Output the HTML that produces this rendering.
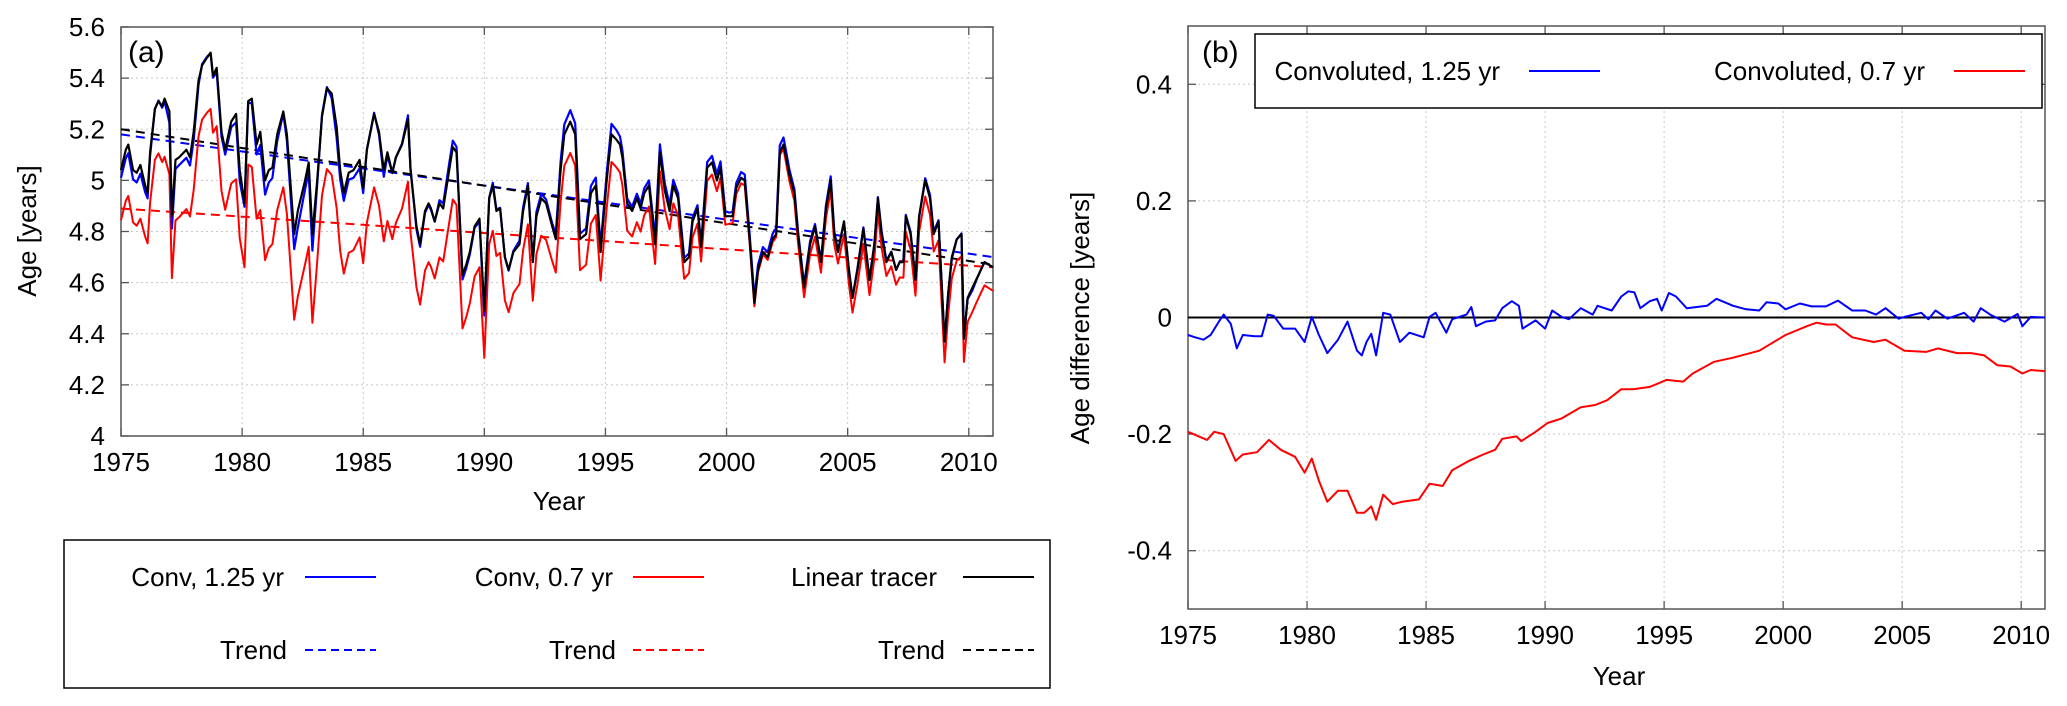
<!DOCTYPE html>
<html><head><meta charset="utf-8">
<style>
html,body{margin:0;padding:0;background:#fff;}
svg{display:block;font-family:"Liberation Sans",sans-serif;}
</style></head>
<body>
<svg id="chart" width="2067" height="706" viewBox="0 0 2067 706" xmlns="http://www.w3.org/2000/svg"></svg>
<script>
// ---- Panel (a) data: linear tracer age (years) ----
const tYears = [1975.0,1975.2,1975.3,1975.5,1975.65,1975.8,1976.0,1976.1,1976.2,1976.4,1976.55,1976.7,1976.8,1977.0,1977.1,1977.25,1977.4,1977.6,1977.7,1977.85,1978.0,1978.2,1978.35,1978.55,1978.7,1978.8,1978.95,1979.15,1979.3,1979.55,1979.75,1979.9,1980.1,1980.25,1980.4,1980.6,1980.75,1980.95,1981.1,1981.25,1981.45,1981.7,1981.85,1982.15,1982.3,1982.6,1982.75,1982.9,1983.1,1983.3,1983.5,1983.7,1983.9,1984.05,1984.2,1984.4,1984.6,1984.85,1985.0,1985.15,1985.45,1985.65,1985.85,1986.0,1986.2,1986.35,1986.6,1986.85,1986.95,1987.2,1987.35,1987.55,1987.7,1987.8,1987.95,1988.15,1988.3,1988.55,1988.7,1988.85,1989.1,1989.25,1989.4,1989.6,1989.8,1990.0,1990.2,1990.35,1990.5,1990.65,1990.85,1991.0,1991.2,1991.45,1991.6,1991.8,1992.0,1992.15,1992.35,1992.55,1992.8,1992.95,1993.15,1993.3,1993.55,1993.75,1993.95,1994.2,1994.4,1994.6,1994.8,1995.05,1995.25,1995.45,1995.6,1995.7,1995.9,1996.1,1996.3,1996.45,1996.6,1996.8,1997.05,1997.25,1997.45,1997.65,1997.8,1998.0,1998.25,1998.45,1998.6,1998.8,1998.95,1999.2,1999.4,1999.6,1999.75,1999.95,2000.1,2000.25,2000.4,2000.6,2000.75,2000.95,2001.15,2001.3,2001.5,2001.7,2001.9,2002.05,2002.2,2002.35,2002.6,2002.8,2002.95,2003.2,2003.45,2003.65,2003.9,2004.1,2004.3,2004.45,2004.6,2004.85,2005.05,2005.2,2005.4,2005.65,2005.9,2006.1,2006.25,2006.4,2006.6,2006.8,2007.0,2007.15,2007.3,2007.4,2007.6,2007.8,2007.95,2008.2,2008.4,2008.55,2008.75,2009.0,2009.15,2009.3,2009.5,2009.7,2009.8,2009.95,2010.15,2010.3,2010.5,2010.65,2011.0];
const linearAge = [5.04,5.12,5.14,5.04,5.03,5.06,4.98,4.95,5.11,5.28,5.31,5.29,5.32,5.27,4.86,5.08,5.09,5.11,5.12,5.09,5.19,5.39,5.45,5.48,5.50,5.41,5.44,5.19,5.12,5.23,5.26,5.04,4.91,5.31,5.32,5.14,5.19,5.00,5.04,5.05,5.18,5.27,5.18,4.79,4.88,5.00,5.07,4.79,5.00,5.25,5.36,5.34,5.21,5.04,4.95,5.03,5.04,5.08,4.97,5.12,5.26,5.19,5.04,5.11,5.03,5.09,5.14,5.24,5.04,4.82,4.75,4.88,4.91,4.89,4.84,4.91,4.89,5.04,5.13,5.11,4.63,4.67,4.72,4.82,4.85,4.49,4.93,4.98,4.88,4.89,4.70,4.65,4.72,4.75,4.88,4.98,4.68,4.86,4.93,4.91,4.82,4.77,5.04,5.18,5.23,5.18,4.77,4.79,4.95,4.98,4.72,5.00,5.18,5.16,5.14,5.09,4.91,4.88,4.93,4.89,4.95,4.98,4.75,5.11,4.96,4.88,4.98,4.93,4.68,4.70,4.84,4.89,4.74,5.05,5.07,5.00,5.05,4.86,4.86,4.86,4.97,5.01,5.00,4.77,4.52,4.65,4.72,4.70,4.77,4.79,5.11,5.14,5.02,4.95,4.79,4.58,4.75,4.82,4.68,4.89,5.00,4.79,4.72,4.84,4.65,4.54,4.65,4.81,4.61,4.75,4.93,4.79,4.68,4.72,4.65,4.68,4.68,4.86,4.79,4.61,4.86,5.00,4.93,4.79,4.84,4.37,4.56,4.70,4.77,4.79,4.38,4.54,4.58,4.61,4.65,4.68,4.66];
// ---- Panel (b) data: age difference (conv - linear) ----
const redYears = [1975,1975.8,1976.1,1976.5,1977.0,1977.3,1977.9,1978.4,1978.9,1979.5,1979.9,1980.2,1980.5,1980.85,1981.3,1981.7,1982.1,1982.4,1982.7,1982.9,1983.2,1983.6,1984.0,1984.7,1985.15,1985.7,1986.1,1986.8,1987.4,1987.9,1988.2,1988.8,1989.0,1989.6,1990.1,1990.7,1991.5,1992.1,1992.6,1993.2,1993.7,1994.4,1995.1,1995.8,1996.2,1997.1,1997.9,1999.0,2000.1,2001.0,2001.4,2001.8,2002.2,2002.9,2003.8,2004.3,2005.1,2006.0,2006.5,2007.3,2007.9,2008.45,2009.0,2009.55,2010.05,2010.4,2011.0];
const diffRed = [-0.196,-0.21,-0.196,-0.2,-0.246,-0.235,-0.231,-0.21,-0.227,-0.239,-0.266,-0.242,-0.28,-0.316,-0.297,-0.297,-0.335,-0.335,-0.324,-0.347,-0.304,-0.32,-0.316,-0.312,-0.285,-0.289,-0.262,-0.246,-0.235,-0.227,-0.208,-0.204,-0.212,-0.196,-0.181,-0.173,-0.154,-0.15,-0.142,-0.123,-0.123,-0.119,-0.107,-0.11,-0.096,-0.076,-0.069,-0.057,-0.03,-0.015,-0.009,-0.012,-0.012,-0.034,-0.042,-0.038,-0.057,-0.059,-0.053,-0.061,-0.061,-0.065,-0.082,-0.084,-0.096,-0.09,-0.092];
const blueYears = [1975,1975.3,1975.65,1975.95,1976.3,1976.5,1976.8,1977.05,1977.3,1977.8,1978.1,1978.35,1978.6,1979.0,1979.5,1979.9,1980.2,1980.5,1980.85,1981.3,1981.7,1982.1,1982.3,1982.5,1982.7,1982.9,1983.2,1983.5,1983.9,1984.3,1984.9,1985.15,1985.4,1985.85,1986.1,1986.7,1986.9,1987.1,1987.5,1987.9,1988.2,1988.6,1988.9,1989.05,1989.6,1990.0,1990.3,1990.7,1991.0,1991.5,1992.0,1992.2,1992.8,1993.2,1993.5,1993.75,1994.0,1994.4,1994.7,1994.9,1995.2,1995.5,1995.95,1996.8,1997.2,1997.9,1998.45,1999.0,1999.3,1999.8,2000.1,2000.7,2001.2,2001.8,2002.3,2002.9,2003.45,2003.9,2004.3,2004.85,2005.1,2005.8,2006.1,2006.4,2006.9,2007.6,2008.0,2008.3,2008.7,2009.3,2009.85,2010.05,2010.4,2011.0];
const diffBlue = [-0.03,-0.034,-0.038,-0.03,-0.007,0.005,-0.011,-0.053,-0.03,-0.032,-0.032,0.005,0.003,-0.019,-0.019,-0.042,0.001,-0.03,-0.061,-0.038,-0.007,-0.057,-0.065,-0.042,-0.028,-0.065,0.008,0.005,-0.042,-0.026,-0.034,0.001,0.008,-0.026,-0.003,0.005,0.018,-0.015,-0.007,-0.005,0.016,0.028,0.02,-0.019,-0.005,-0.019,0.012,0.001,-0.003,0.016,0.005,0.02,0.012,0.036,0.045,0.043,0.016,0.028,0.032,0.012,0.042,0.036,0.016,0.02,0.032,0.02,0.014,0.012,0.026,0.024,0.014,0.024,0.019,0.019,0.029,0.012,0.012,0.005,0.016,-0.002,0.001,0.008,-0.003,0.012,-0.002,0.008,-0.007,0.016,0.005,-0.007,0.006,-0.015,0.001,0.0];
// trends (start 1975, end 2011)
const trendBlue = [5.18, 4.70];
const trendRed = [4.89, 4.66];
const trendBlack = [5.20, 4.67];
const xTicks = [1975,1980,1985,1990,1995,2000,2005,2010];
const yTicksA = [4,4.2,4.4,4.6,4.8,5,5.2,5.4,5.6];
const yLabelsA = ["4","4.2","4.4","4.6","4.8","5","5.2","5.4","5.6"];
const yTicksB = [-0.4,-0.2,0,0.2,0.4];
const yLabelsB = ["-0.4","-0.2","0","0.2","0.4"];

const NS="http://www.w3.org/2000/svg";
const svg=document.getElementById('chart');
function mk(tag,attrs,parent){const e=document.createElementNS(NS,tag);for(const k in attrs)e.setAttribute(k,attrs[k]);(parent||svg).appendChild(e);return e;}
function interp(xs,ys,x){if(x<=xs[0])return ys[0];for(let i=1;i<xs.length;i++){if(x<=xs[i]){const t=(x-xs[i-1])/(xs[i]-xs[i-1]);return ys[i-1]+t*(ys[i]-ys[i-1]);}}return ys[ys.length-1];}

const A={l:121,r:993,t:27,b:436,x0:1975,x1:2011,y0:4,y1:5.6};
const B={l:1188,r:2045,t:26,b:609,x0:1975,x1:2011,y0:-0.5,y1:0.5};
function sx(P,v){return P.l+(v-P.x0)/(P.x1-P.x0)*(P.r-P.l);}
function sy(P,v){return P.b-(v-P.y0)/(P.y1-P.y0)*(P.b-P.t);}

function axes(P,yt,yl,name){
  const g=mk('g',{});
  
  
  xTicks.forEach(v=>{const x=sx(P,v);
    const gl=mk('line',{x1:x,x2:x,y1:P.t,y2:P.b,stroke:'#c8c8c8','stroke-width':1,'stroke-dasharray':'2,3'},g);
    
    mk('line',{x1:x,x2:x,y1:P.b,y2:P.b-8,stroke:'#555','stroke-width':1.3},g);
    mk('line',{x1:x,x2:x,y1:P.t,y2:P.t+8,stroke:'#555','stroke-width':1.3},g);
    const t=mk('text',{x:x,y:P.b+35,'font-size':26,'text-anchor':'middle',fill:'#000'},g);t.textContent=v;
    
  });
  yt.forEach((v,i)=>{const y=sy(P,v);
    const gl=mk('line',{x1:P.l,x2:P.r,y1:y,y2:y,stroke:'#c8c8c8','stroke-width':1,'stroke-dasharray':'2,3'},g);
    
    mk('line',{x1:P.l,x2:P.l+8,y1:y,y2:y,stroke:'#555','stroke-width':1.3},g);
    mk('line',{x1:P.r,x2:P.r-8,y1:y,y2:y,stroke:'#555','stroke-width':1.3},g);
    const t=mk('text',{x:P.l-16,y:y+9,'font-size':26,'text-anchor':'end',fill:'#000'},g);t.textContent=yl[i];
    
  });
  const fr=mk('rect',{x:P.l,y:P.t,width:P.r-P.l,height:P.b-P.t,fill:'none',stroke:'#555','stroke-width':1.5},g);
  
}
function poly(P,xs,ys,color,w,dash,name){
  const pts=xs.map((x,i)=>sx(P,x).toFixed(1)+','+sy(P,ys[i]).toFixed(1)).join(' ');
  const a={points:pts,fill:'none',stroke:color,'stroke-width':w,'stroke-linejoin':'round'};
  if(dash)a['stroke-dasharray']=dash;
  const e=mk('polyline',a);
  
  
  return e;
}
function txt(x,y,s,size,name,extra){const a=Object.assign({x:x,y:y,'font-size':size,fill:'#000'},extra||{});const t=mk('text',a);t.textContent=s;
  return t;}

// Panel A
axes(A,yTicksA,yLabelsA,'panel-a');
const blueA=tYears.map((y,i)=>linearAge[i]+interp(blueYears,diffBlue,y));
const redA=tYears.map((y,i)=>linearAge[i]+interp(redYears,diffRed,y));
poly(A,[1975,2011],trendBlue,'#0000ff',2,'9,6','trend-conv-125');
poly(A,[1975,2011],trendRed,'#ff0000',2,'9,6','trend-conv-07');
poly(A,[1975,2011],trendBlack,'#000',2,'9,6','trend-linear');
poly(A,tYears,redA,'#ff0000',2,null,'conv-07-line');
poly(A,tYears,blueA,'#0000ff',2.2,null,'conv-125-line');
poly(A,tYears,linearAge,'#000',2.2,null,'linear-tracer-line');
txt(128,62,'(a)',30,'panel-a-label');
txt(559,510,'Year',26,'x-axis-title-a',{'text-anchor':'middle'});
txt(0,0,'Age [years]',26,'y-axis-title-a',{'text-anchor':'middle',transform:'translate(36,231) rotate(-90)'});

// Legend A
const lg=mk('g',{});

mk('rect',{x:64,y:540,width:986,height:148,fill:'#fff',stroke:'#000','stroke-width':1.5},lg);
const legA=[[284,586,'Conv, 1.25 yr','#0000ff',null,305],[613,586,'Conv, 0.7 yr','#ff0000',null,633],[937,586,'Linear tracer','#000',null,963],
 [287,659,'Trend','#0000ff','8,5',305],[616,659,'Trend','#ff0000','8,5',633],[945,659,'Trend','#000','8,5',963]];
legA.forEach(l=>{txt(l[0],l[1],l[2],26,'legend-entry',{'text-anchor':'end'});
  const a={x1:l[5],x2:l[5]+71,y1:l[1]-9,y2:l[1]-9,stroke:l[3],'stroke-width':2};if(l[4])a['stroke-dasharray']=l[4];
  const ln=mk('line',a,lg);});

// Panel B
axes(B,yTicksB,yLabelsB,'panel-b');
const zl=mk('line',{x1:B.l,x2:B.r,y1:sy(B,0),y2:sy(B,0),stroke:'#000','stroke-width':2});

poly(B,redYears,diffRed,'#ff0000',2,null,'diff-conv-07-line');
poly(B,blueYears,diffBlue,'#0000ff',2,null,'diff-conv-125-line');
txt(1202,62,'(b)',30,'panel-b-label');
txt(1619,685,'Year',26,'x-axis-title-b',{'text-anchor':'middle'});
txt(0,0,'Age difference [years]',26,'y-axis-title-b',{'text-anchor':'middle',transform:'translate(1089,318) rotate(-90)'});
const lb=mk('g',{});

mk('rect',{x:1255,y:34,width:787,height:74,fill:'#fff',stroke:'#000','stroke-width':1.5},lb);
txt(1500,80,'Convoluted, 1.25 yr',26,'legend-entry',{'text-anchor':'end'});
const l1=mk('line',{x1:1529,x2:1600,y1:71,y2:71,stroke:'#0000ff','stroke-width':2},lb);

txt(1925,80,'Convoluted, 0.7 yr',26,'legend-entry',{'text-anchor':'end'});
const l2=mk('line',{x1:1954,x2:2025,y1:71,y2:71,stroke:'#ff0000','stroke-width':2},lb);

</script>
</body></html>
